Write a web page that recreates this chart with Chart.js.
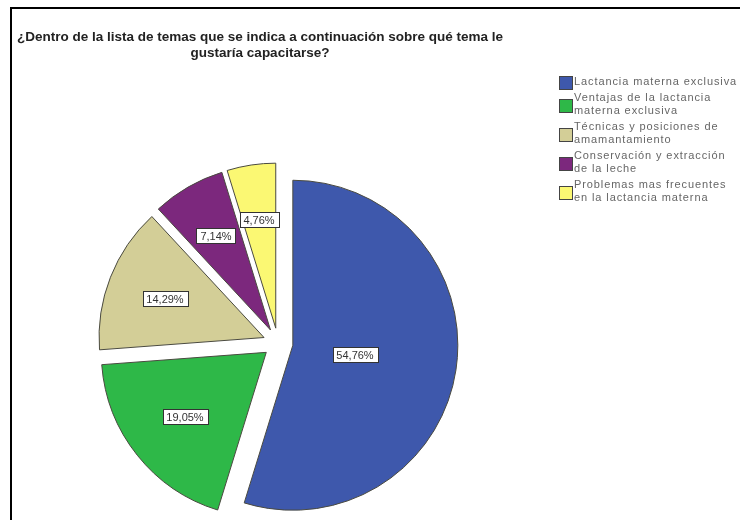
<!DOCTYPE html>
<html lang="es">
<head>
<meta charset="UTF-8">
<title>Temas de capacitación</title>
<script src="https://cdn.jsdelivr.net/npm/chart.js"></script>
<style>
  html, body { margin: 0; padding: 0; background: #fff; }
  #wrap { width: 740px; height: 520px; }
</style>
</head>
<body>
<div id="wrap"><canvas id="pie" width="740" height="520"></canvas></div>
<script>
// legend text, already split into the lines it is printed on
const categories = [
  ['Lactancia materna exclusiva'],
  ['Ventajas de la lactancia', 'materna exclusiva'],
  ['Técnicas y posiciones de', 'amamantamiento'],
  ['Conservación y extracción', 'de la leche'],
  ['Problemas mas frecuentes', 'en la lactancia materna']
];
const percents = [54.76, 19.05, 14.29, 7.14, 4.76];
const sliceColors = ['#3e58ac', '#2eb848', '#d3ce97', '#7c287d', '#fbf873'];
const titleLines = [
  '¿Dentro de la lista de temas que se indica a continuación sobre qué tema le',
  'gustaría capacitarse?'
];

const EXPLODE = 15;

function fmtPct(v) {
  return v.toFixed(2).replace('.', ',') + '%';
}

// pushes every slice out along its middle angle
const explodePlugin = {
  id: 'explode',
  afterDatasetsUpdate(chart) {
    const meta = chart.getDatasetMeta(0);
    meta.data.forEach(arc => {
      const mid = (arc.startAngle + arc.endAngle) / 2;
      if (arc._cx === undefined) { arc._cx = arc.x; arc._cy = arc.y; }
      arc.x = arc._cx + Math.cos(mid) * EXPLODE;
      arc.y = arc._cy + Math.sin(mid) * EXPLODE;
    });
  }
};

// white boxed percentage at the centroid of each slice
const boxLabels = {
  id: 'boxLabels',
  afterDatasetsDraw(chart) {
    const ctx = chart.ctx;
    const meta = chart.getDatasetMeta(0);
    ctx.save();
    ctx.font = '11px "Liberation Sans", Arial, sans-serif';
    ctx.textAlign = 'center';
    ctx.textBaseline = 'middle';
    meta.data.forEach((arc, i) => {
      const theta = arc.endAngle - arc.startAngle;
      const mid = (arc.startAngle + arc.endAngle) / 2;
      const d = 2 * arc.outerRadius * Math.sin(theta / 2) / (1.5 * theta);
      const x = arc.x + Math.cos(mid) * d;
      const y = arc.y + Math.sin(mid) * d;
      const txt = fmtPct(chart.data.datasets[0].data[i]);
      const w = Math.round(ctx.measureText(txt).width) + 8;
      const h = 15;
      const bx = Math.round(x - w / 2) + 0.5;
      const by = Math.round(y - h / 2) + 0.5;
      ctx.fillStyle = '#fff';
      ctx.fillRect(bx, by, w, h);
      ctx.strokeStyle = '#333';
      ctx.lineWidth = 1;
      ctx.strokeRect(bx, by, w, h);
      ctx.fillStyle = '#333';
      ctx.fillText(txt, Math.round(x), Math.round(y) + 1);
    });
    ctx.restore();
  }
};

// frame, title and legend
const decor = {
  id: 'decor',
  beforeDraw(chart) {
    const ctx = chart.ctx;
    ctx.save();
    ctx.fillStyle = '#000';
    ctx.fillRect(10, 7, 730, 2);
    ctx.fillRect(10, 7, 2, 513);

    ctx.fillStyle = '#222';
    ctx.font = 'bold 13.5px "Liberation Sans", Arial, sans-serif';
    ctx.textAlign = 'center';
    ctx.textBaseline = 'middle';
    titleLines.forEach((line, i) => ctx.fillText(line, 260, 37 + i * 16));
    ctx.restore();
  },
  afterDraw(chart) {
    const ctx = chart.ctx;
    const colors = chart.data.datasets[0].backgroundColor;
    ctx.save();
    ctx.font = '11px "Liberation Sans", Arial, sans-serif';
    ctx.letterSpacing = '0.9px';
    ctx.textBaseline = 'middle';
    ctx.textAlign = 'left';
    let y = 82;
    chart.data.labels.forEach((lines, i) => {
      const blockMid = y + (lines.length - 1) * 13 / 2;
      const sy = Math.round(blockMid - 6) + 0.5;
      ctx.fillStyle = colors[i];
      ctx.fillRect(559.5, sy, 13, 13);
      ctx.strokeStyle = '#444';
      ctx.lineWidth = 1;
      ctx.strokeRect(559.5, sy, 13, 13);
      ctx.fillStyle = '#666';
      lines.forEach((t, k) => ctx.fillText(t, 574, y + k * 13));
      y += lines.length * 13 + 3;
    });
    ctx.restore();
  }
};

new Chart(document.getElementById('pie'), {
  type: 'pie',
  data: {
    labels: categories,
    datasets: [{
      data: percents,
      backgroundColor: sliceColors,
      borderColor: '#4a4a40',
      borderWidth: 1,
      radius: 165,
      clip: false
    }]
  },
  options: {
    responsive: false,
    animation: false,
    devicePixelRatio: 1,
    layout: { padding: { left: 100, right: 284, top: 171, bottom: 5 } },
    plugins: {
      legend: { display: false },
      title: { display: false },
      tooltip: { enabled: false }
    }
  },
  plugins: [explodePlugin, decor, boxLabels]
});
</script>
</body>
</html>
